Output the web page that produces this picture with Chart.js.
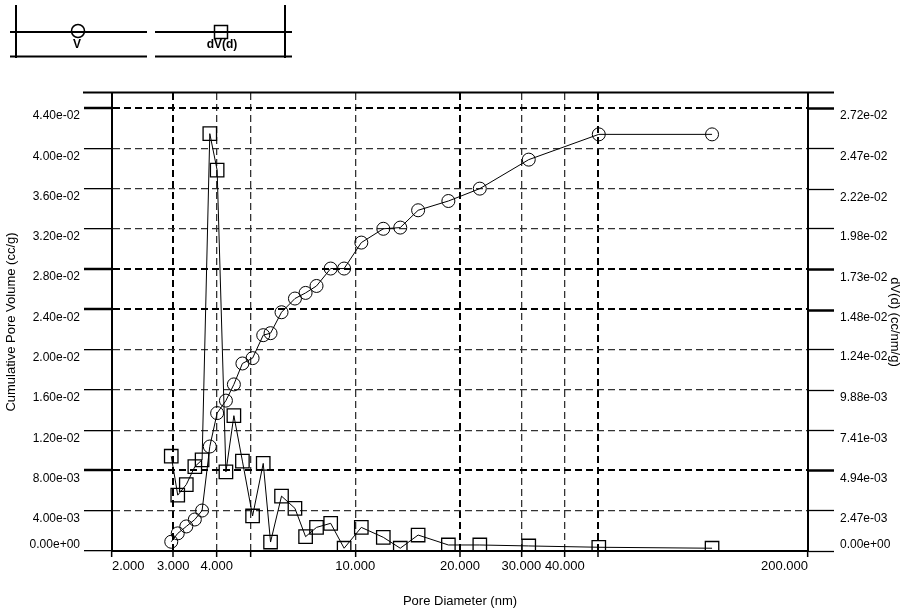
<!DOCTYPE html>
<html>
<head>
<meta charset="utf-8">
<script src="https://cdn.jsdelivr.net/npm/chart.js@4.4.0/dist/chart.umd.min.js"></script>
<style>
  html, body { margin: 0; padding: 0; background: #fff; }
  #wrap { width: 906px; height: 616px; position: relative; }
</style>
</head>
<body>
<div id="wrap"><canvas id="myChart" width="906" height="616"></canvas></div>
<script>
// Pore diameter (nm), shared by both series
const poreDiameter = [2.96, 3.09, 3.27, 3.46, 3.63, 3.82, 4.01, 4.25, 4.48, 4.74, 5.07, 5.44, 5.71, 6.14,
    6.71, 7.20, 7.74, 8.50, 9.29, 10.41, 12.04, 13.47, 15.16, 18.52, 22.80, 31.52, 50.1, 106.0];

// V - cumulative pore volume (cc/g), left axis
const cumVolume = [0.00092, 0.00175, 0.00244, 0.00313, 0.00402, 0.01038, 0.01370, 0.01494, 0.01655, 0.01863,
    0.01916, 0.02144, 0.02164, 0.02372, 0.02508, 0.02564, 0.02633, 0.02806, 0.02806, 0.03064, 0.03201, 0.03213,
    0.03385, 0.03477, 0.03600, 0.03888, 0.04139, 0.04139];

// dV(d) (cc/nm/g), right axis
const dVd = [0.00582, 0.00343, 0.00408, 0.00518, 0.00560, 0.02563, 0.02339, 0.00486, 0.00831, 0.00552,
    0.00215, 0.00538, 0.00055, 0.00337, 0.00262, 0.00088, 0.00145, 0.00170, 0.00017, 0.00145, 0.00084, 0.00017,
    0.00098, 0.00037, 0.00037, 0.00031, 0.00023, 0.00017];

// axes
const xTicks = [2, 3, 4, 5, 10, 20, 30, 40, 50, 200];
const xTickLabels = ['2.000', '3.000', '4.000', '', '10.000', '20.000', '30.000', '40.000', '', '200.000'];
const leftTicks = [0, 0.004, 0.008, 0.012, 0.016, 0.020, 0.024, 0.028, 0.032, 0.036, 0.040, 0.044];
const rightTicks = [0, 2.47e-3, 4.94e-3, 7.41e-3, 9.88e-3, 1.24e-2, 1.48e-2, 1.73e-2, 1.98e-2, 2.22e-2, 2.47e-2, 2.72e-2];
const leftMax = 0.0455;
const rightMax = leftMax * rightTicks[11] / leftTicks[11];

// "4.40e-02" style
function sci(v){
    if(v === 0) return '0.00e+00';
    let parts = v.toExponential(2).split('e');
    let n = Math.abs(parseInt(parts[1]));
    return parts[0] + 'e' + (parts[1][0] === '-' ? '-' : '+') + (n < 10 ? '0' + n : n);
}

// lower label sits above its tick, the others below
function yLabel(v){
    return v === 0 ? [sci(v), '', ''] : sci(v);
}

const thickY = [2, 6, 7, 11];
const thickX = [3, 20, 50];

const ctx = document.getElementById('myChart').getContext('2d');
const FONT = 'Liberation Sans, Arial, sans-serif';

// legend box + top frame line
const legendBox = {
    id: 'legendBox',
    afterDraw(chart){
        const c = chart.ctx;
        const ds = chart.data.datasets;
        c.save();
        c.strokeStyle = '#000';
        c.lineWidth = 2;
        const seg = (x1, y1, x2, y2) => { c.beginPath(); c.moveTo(x1, y1); c.lineTo(x2, y2); c.stroke(); };
        seg(16, 5, 16, 58);
        seg(285, 5, 285, 58);
        seg(10, 32, 147, 32);
        seg(155, 32, 292, 32);
        seg(10, 56.5, 147, 56.5);
        seg(155, 56.5, 292, 56.5);
        seg(83, 92.5, 834, 92.5);

        c.lineWidth = 1.5;
        c.beginPath();
        c.arc(78, 31, 6.5, 0, Math.PI * 2);
        c.stroke();
        c.strokeRect(214.5, 25.5, 13, 13);

        c.fillStyle = '#000';
        c.font = 'bold 12px ' + FONT;
        c.textAlign = 'center';
        c.textBaseline = 'middle';
        c.fillText(ds[0].label, 77, 45);
        c.fillText(ds[1].label, 222, 45);
        c.restore();
    }
};

const config = {
    type: 'line',
    data: {
        datasets: [
            {
                label: 'V',
                data: poreDiameter.map((d, i) => ({x: d, y: cumVolume[i]})),
                yAxisID: 'y',
                borderColor: '#000',
                borderWidth: 1,
                pointStyle: 'circle',
                pointRadius: 6.5,
                pointBorderWidth: 1,
                pointBorderColor: '#000',
                pointBackgroundColor: 'rgba(0,0,0,0)',
                backgroundColor: 'rgba(0,0,0,0)',
                tension: 0,
                fill: false
            },
            {
                label: 'dV(d)',
                data: poreDiameter.map((d, i) => ({x: d, y: dVd[i]})),
                yAxisID: 'y1',
                borderColor: '#000',
                borderWidth: 1,
                pointStyle: 'rect',
                pointRadius: 9.5,
                pointBorderWidth: 1.3,
                pointBorderColor: '#000',
                pointBackgroundColor: 'rgba(0,0,0,0)',
                backgroundColor: 'rgba(0,0,0,0)',
                tension: 0,
                fill: false
            }
        ]
    },
    options: {
        responsive: false,
        animation: false,
        events: [],
        layout: { padding: { top: 93, left: 0, right: 0, bottom: 0 } },
        plugins: {
            legend: { display: false },
            tooltip: { enabled: false }
        },
        scales: {
            x: {
                type: 'logarithmic',
                min: 2,
                max: 200,
                afterBuildTicks: scale => { scale.ticks = xTicks.map(v => ({value: v, major: false})); },
                afterFit: scale => { scale.height = 65; },
                ticks: {
                    autoSkip: false,
                    maxRotation: 0,
                    align: 'inner',
                    padding: 2,
                    color: '#000',
                    font: { family: FONT, size: 13 },
                    callback: (v, i) => xTickLabels[i]
                },
                grid: {
                    color: c => (c.tick && (c.tick.value === 2 || c.tick.value === 200)) ? 'rgba(0,0,0,0)' :
                        (thickX.includes(c.tick && c.tick.value) ? '#000' : '#333'),
                    lineWidth: c => thickX.includes(c.tick && c.tick.value) ? 2 : 1.3,
                    tickLength: 6,
                    tickColor: '#000',
                    tickWidth: 1.5
                },
                border: { display: true, color: '#000', width: 2, dash: [7, 4] },
                title: {
                    display: true,
                    text: 'Pore Diameter (nm)',
                    color: '#000',
                    font: { family: FONT, size: 13 },
                    padding: { top: 4, bottom: 7 }
                }
            },
            y: {
                position: 'left',
                min: 0,
                max: leftMax,
                afterBuildTicks: scale => { scale.ticks = leftTicks.map(v => ({value: v})); },
                afterFit: scale => { scale.width = 112; },
                ticks: {
                    autoSkip: false,
                    padding: 4,
                    labelOffset: 8,
                    color: '#000',
                    font: { family: FONT, size: 12 },
                    callback: v => yLabel(v)
                },
                grid: {
                    color: c => (c.index === 0) ? 'rgba(0,0,0,0)' : (thickY.includes(c.index) ? '#000' : '#333'),
                    lineWidth: c => thickY.includes(c.index) ? 2 : 1.3,
                    tickLength: 28,
                    tickColor: '#000',
                    tickWidth: c => thickY.includes(c.index) ? 2.5 : 1.3
                },
                border: { display: true, color: '#000', width: 2, dash: [7, 4] },
                title: {
                    display: true,
                    text: 'Cumulative Pore Volume (cc/g)',
                    color: '#000',
                    font: { family: FONT, size: 13 },
                    padding: { top: 4, bottom: 4 }
                }
            },
            y1: {
                position: 'right',
                min: 0,
                max: rightMax,
                afterBuildTicks: scale => { scale.ticks = rightTicks.map(v => ({value: v})); },
                afterFit: scale => { scale.width = 98; },
                ticks: {
                    autoSkip: false,
                    padding: 6,
                    labelOffset: 8,
                    color: '#000',
                    font: { family: FONT, size: 12 },
                    callback: v => yLabel(v)
                },
                grid: {
                    drawOnChartArea: false,
                    tickLength: 26,
                    tickColor: '#000',
                    tickWidth: c => thickY.includes(c.index) ? 2.5 : 1.3
                },
                border: { display: true, color: '#000', width: 2 },
                title: {
                    display: true,
                    text: 'dV(d) (cc/nm/g)',
                    color: '#000',
                    font: { family: FONT, size: 13 },
                    padding: { top: 4, bottom: 4 }
                }
            }
        }
    },
    plugins: [legendBox]
};

const myChart = new Chart(ctx, config);
</script>
</body>
</html>
